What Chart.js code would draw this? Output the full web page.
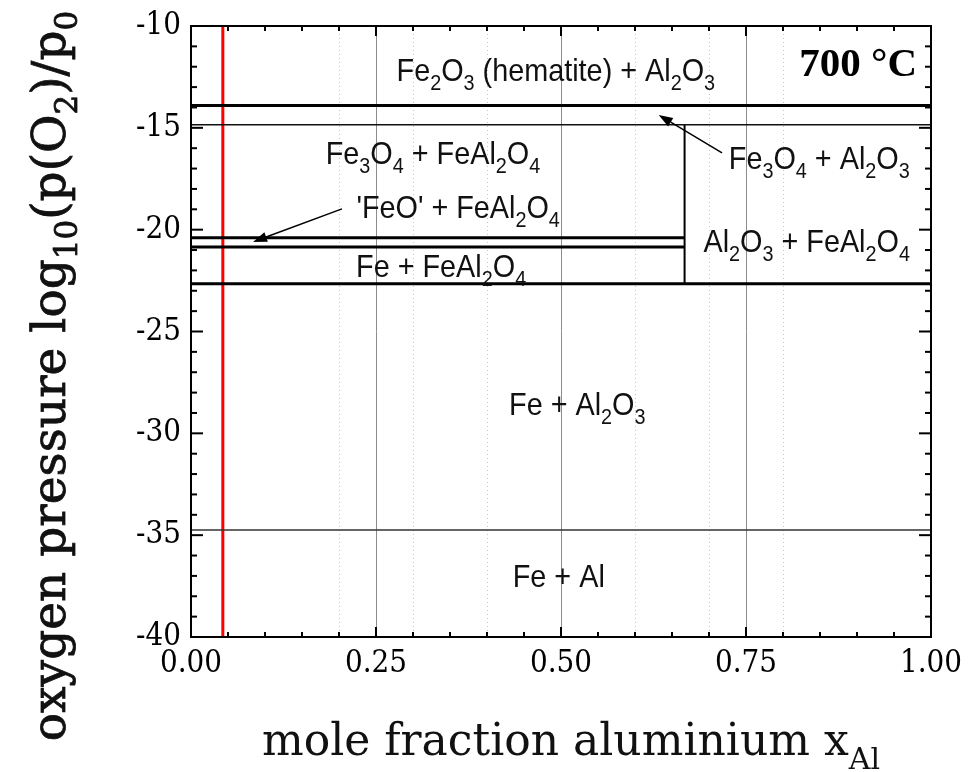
<!DOCTYPE html>
<html><head><meta charset="utf-8">
<script src="https://cdn.jsdelivr.net/npm/chart.js@4/dist/chart.umd.min.js"></script>
<style>html,body{margin:0;padding:0;background:#fff;}canvas{display:block;}</style>
</head><body>
<canvas id="c" width="969" height="772" style="width:969px;height:772px"></canvas>
<script>
// ---------------- data ----------------
const xTickValues = [0, 0.25, 0.5, 0.75, 1];
const yTickValues = [-40, -35, -30, -25, -20, -15, -10];
const xMajorGrid = [0.25, 0.5, 0.75];
const xMinorGrid = [0.2, 0.3, 0.4, 0.6, 0.7, 0.8];

// horizontal phase boundaries: log10(pO2) level, start and end mole fraction
const boundaryLevel = [-13.9, -14.85, -20.4, -20.85, -22.65, -34.75];
const boundaryFromX = [0, 0, 0, 0, 0, 0];
const boundaryToX   = [1, 1, 0.667, 0.667, 1, 1];

// vertical boundary at x = 2/3 (FeAl2O4 composition)
const spinelEdgeX = [0.667, 0.667];
const spinelEdgeY = [-22.65, -14.85];

// sample composition (red line)
const sampleLineX = [0.043, 0.043];
const sampleLineY = [-40, -10];

// phase-field labels (anchor: centre x, baseline y in data units)
const phaseLabels = [
  "Fe_{2}O_{3} (hematite) + Al_{2}O_{3}",
  "Fe_{3}O_{4} + FeAl_{2}O_{4}",
  "'FeO' + FeAl_{2}O_{4}",
  "Fe + FeAl_{2}O_{4}",
  "Fe_{3}O_{4} + Al_{2}O_{3}",
  "Al_{2}O_{3} + FeAl_{2}O_{4}",
  "Fe + Al_{2}O_{3}",
  "Fe + Al"
];
const phaseLabelX = [0.493, 0.327, 0.361, 0.338, 0.849, 0.832, 0.522, 0.497];
const phaseLabelY = [-12.7, -16.8, -19.45, -22.3, -17.0, -21.1, -29.1, -37.55];

// arrows (tail -> tip, data units)
const arrowFromX = [0.7176, 0.204];
const arrowFromY = [-16.23, -18.98];
const arrowToX   = [0.632, 0.0838];
const arrowToY   = [-14.37, -20.6];

const temperatureLabel = "700 °C";
const xTitle = "mole fraction aluminium x_{Al}";
const yTitle = "oxygen pressure log_{10}(p(O_{2})/p_{0}";

// ---------------- styles ----------------
const boundaryWidth = [3, 1.5, 3, 3, 3, 1.5];
const boundaryColor = ['#000', '#111', '#000', '#000', '#000', '#333'];

const datasets = [];
boundaryLevel.forEach((lv, i) => {
  datasets.push({
    data: [{x: boundaryFromX[i], y: lv}, {x: boundaryToX[i], y: lv}],
    showLine: true, borderColor: boundaryColor[i], borderWidth: boundaryWidth[i],
    pointRadius: 0, borderCapStyle: 'butt'
  });
});
datasets.push({
  data: spinelEdgeX.map((x, i) => ({x, y: spinelEdgeY[i]})),
  showLine: true, borderColor: '#000', borderWidth: 2, pointRadius: 0
});
datasets.push({
  data: sampleLineX.map((x, i) => ({x, y: sampleLineY[i]})),
  showLine: true, borderColor: '#ff0000', borderWidth: 3, pointRadius: 0
});

// ---------------- rich text helpers ----------------
function parseRich(s) {
  const out = []; const re = /_\{([^}]*)\}/g; let last = 0, m;
  while ((m = re.exec(s))) {
    if (m.index > last) out.push({t: s.slice(last, m.index), sub: false});
    out.push({t: m[1], sub: true}); last = re.lastIndex;
  }
  if (last < s.length) out.push({t: s.slice(last), sub: false});
  return out;
}
function drawRich(ctx, s, x, y, f, align) {
  const parts = parseRich(s);
  const sx = f.sx || 1;
  let w = 0;
  for (const p of parts) { ctx.font = p.sub ? f.sub : f.main; w += ctx.measureText(p.t).width; }
  w *= sx;
  let cx = align === 'center' ? x - w / 2 : (align === 'right' ? x - w : x);
  ctx.save();
  ctx.translate(cx, y); ctx.scale(sx, 1);
  ctx.textAlign = 'left'; ctx.textBaseline = 'alphabetic';
  let px = 0;
  for (const p of parts) {
    ctx.font = p.sub ? f.sub : f.main;
    ctx.fillText(p.t, px, p.sub ? f.off : 0);
    if (f.stroke) { ctx.lineWidth = f.stroke; ctx.strokeText(p.t, px, p.sub ? f.off : 0); }
    px += ctx.measureText(p.t).width;
  }
  ctx.restore();
}
const labelFont = {main: '32px "Liberation Sans", Arial, sans-serif', sub: '22px "Liberation Sans", Arial, sans-serif', off: 9, sx: 0.9};

const decorPlugin = {
  id: 'decor',
  beforeDatasetsDraw(chart) {
    const {ctx, chartArea: a, scales: {x}} = chart;
    ctx.save();
    ctx.strokeStyle = '#c4c4c4'; ctx.lineWidth = 1; ctx.setLineDash([1, 3]);
    for (const v of xMinorGrid) {
      const px = Math.round(x.getPixelForValue(v)) + 0.5;
      ctx.beginPath(); ctx.moveTo(px, a.top); ctx.lineTo(px, a.bottom); ctx.stroke();
    }
    ctx.restore();
  },
  afterDatasetsDraw(chart) {
    const {ctx, chartArea: a, scales: {x, y}} = chart;
    ctx.save();
    // frame
    ctx.strokeStyle = '#000'; ctx.lineWidth = 2;
    ctx.strokeRect(a.left, a.top, a.right - a.left, a.bottom - a.top);
    // inward ticks
    ctx.lineWidth = 2;
    const line = (x1, y1, x2, y2) => { ctx.beginPath(); ctx.moveTo(x1, y1); ctx.lineTo(x2, y2); ctx.stroke(); };
    for (let i = 0; i <= 20; i++) {
      const v = i * 0.05; const px = x.getPixelForValue(v);
      const len = (i % 5 === 0) ? 10 : 5;
      line(px, a.bottom, px, a.bottom - len); line(px, a.top, px, a.top + len);
    }
    for (let v = y.min; v <= y.max; v++) {
      const py = y.getPixelForValue(v);
      const len = (v % 5 === 0) ? 12 : 6;
      line(a.left, py, a.left + len, py); line(a.right, py, a.right - len, py);
    }
    // arrows
    ctx.fillStyle = '#000'; ctx.lineWidth = 1.5;
    arrowFromX.forEach((fx, i) => {
      const x1 = x.getPixelForValue(fx), y1 = y.getPixelForValue(arrowFromY[i]);
      const x2 = x.getPixelForValue(arrowToX[i]), y2 = y.getPixelForValue(arrowToY[i]);
      const ang = Math.atan2(y2 - y1, x2 - x1);
      const L = 14, W = 5;
      const bx = x2 - L * Math.cos(ang), by = y2 - L * Math.sin(ang);
      line(x1, y1, bx, by);
      ctx.beginPath();
      ctx.moveTo(x2, y2);
      ctx.lineTo(bx + W * Math.sin(ang), by - W * Math.cos(ang));
      ctx.lineTo(bx - W * Math.sin(ang), by + W * Math.cos(ang));
      ctx.closePath(); ctx.fill();
    });
    // phase labels
    ctx.fillStyle = '#111';
    phaseLabels.forEach((t, i) => {
      drawRich(ctx, t, x.getPixelForValue(phaseLabelX[i]), y.getPixelForValue(phaseLabelY[i]), labelFont, 'center');
    });
    // temperature
    ctx.fillStyle = '#000';
    ctx.font = 'bold 41px "Liberation Serif", "Times New Roman", serif';
    ctx.textAlign = 'right'; ctx.textBaseline = 'alphabetic';
    ctx.fillText(temperatureLabel, a.right - 14, a.top + 50);
    // axis titles
    ctx.fillStyle = '#111'; ctx.strokeStyle = '#111';
    drawRich(ctx, xTitle, (a.left + a.right) / 2 + 10, 755,
      {main: '44px "DejaVu Serif", serif', sub: '30px "DejaVu Serif", serif', off: 14}, 'center');
    ctx.save();
    ctx.translate(65, 376); ctx.rotate(-Math.PI / 2);
    drawRich(ctx, yTitle, 0, 0,
      {main: '47px "DejaVu Serif", serif', sub: '31px "DejaVu Serif", serif', off: 12, stroke: 0.8}, 'center');
    ctx.restore();
    ctx.restore();
  }
};

const tickFont = {family: '"DejaVu Serif Condensed", "DejaVu Serif", serif', size: 31};

new Chart(document.getElementById('c'), {
  type: 'scatter',
  data: {datasets},
  options: {
    responsive: false, animation: false, devicePixelRatio: 1,
    layout: {padding: {top: 26, right: 38, bottom: 0, left: 0}},
    plugins: {legend: {display: false}, tooltip: {enabled: false}},
    scales: {
      x: {
        type: 'linear', min: 0, max: 1,
        afterBuildTicks(s) { s.ticks = xTickValues.map(v => ({value: v})); },
        ticks: {callback: v => Number(v).toFixed(2), font: tickFont, color: '#000',
                padding: 8, maxRotation: 0, autoSkip: false},
        grid: {drawTicks: false, lineWidth: 1,
               color: c => (c.tick && xMajorGrid.includes(c.tick.value)) ? '#8c8c8c' : 'rgba(0,0,0,0)'},
        border: {display: false},
        afterFit(s) { s.height = 135; s.paddingLeft = 0; s.paddingRight = 0; }
      },
      y: {
        type: 'linear', min: -40, max: -10,
        afterBuildTicks(s) { s.ticks = yTickValues.map(v => ({value: v})); },
        ticks: {callback: v => String(v), font: tickFont, color: '#000', padding: 10, autoSkip: false},
        grid: {display: false, drawTicks: false},
        border: {display: false},
        afterFit(s) { s.width = 191; s.paddingTop = 0; s.paddingBottom = 0; }
      }
    }
  },
  plugins: [decorPlugin]
});
</script>
</body></html>
